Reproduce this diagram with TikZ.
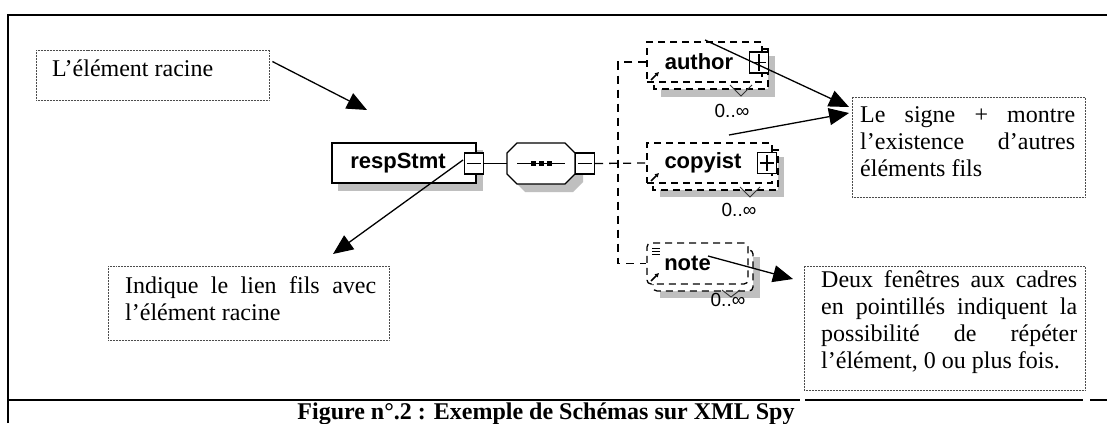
\documentclass[tikz,border=0pt]{standalone}
\usepackage{fontspec}
\setmainfont{Liberation Serif}
\newfontfamily\arialfont{Liberation Sans}
\usetikzlibrary{arrows.meta,calc}

\tikzset{
  frameline/.style={line width=1.7pt},
  callout/.style={draw=black!70, line width=0.9pt, dash pattern=on 1pt off 0.5pt, fill=white, inner sep=0pt},
  calltext/.style={font=\fontsize{24}{27}\selectfont, inner sep=0pt, align=justify, anchor=north west},
  pointer/.style={line width=1.3pt, -{Triangle[length=20pt,width=17pt]}},
  elemfont/.style={font=\arialfont\bfseries\fontsize{22}{24}\selectfont},
  shade/.style={fill=black!25, draw=none},
  solidbox/.style={draw, fill=white, line width=1.3pt, inner sep=0pt, elemfont},
  repbox/.style={draw, fill=white, line width=1.3pt, dash pattern=on 7pt off 5pt},
  link/.style={line width=1.3pt},
  optlink/.style={line width=1.3pt, dash pattern=on 8pt off 6pt},
  tog/.style={draw, fill=white, line width=1.2pt, minimum width=19pt, minimum height=21pt, inner sep=0pt},
  card/.style={font=\arialfont\fontsize{19}{20}\selectfont, inner sep=0pt},
  refmark/.style={line width=1.5pt, -{Latex[length=4pt,width=5pt]}},
  vmark/.style={line width=0.9pt, draw=black!80},
}

\begin{document}
\begin{tikzpicture}[x=1pt,y=-1pt]
\useasboundingbox (0,0) rectangle (1107,423);
\fill[white] (0,0) rectangle (1107,423);

% table frame and caption rule
\draw[frameline] (8,423) -- (8,15) -- (1107,15);
\draw[frameline] (8,400) -- (800,400);
\draw[frameline] (805,400) -- (1083,400);
\draw[frameline] (1090,400) -- (1107,400);

% caption
\node[font=\bfseries\fontsize{24}{27}\selectfont, anchor=base, inner sep=0pt] (caption)
  at (546,419) {Figure n°.2 : Exemple de Schémas sur XML Spy};

% ---------- root element ----------
\fill[shade] (338,150) rectangle (483,191);
\node[solidbox, minimum width=144pt, minimum height=40pt] (root) at (404,163) {respStmt\kern12pt};
\node[tog] (rootm) at (474,163.5) {};
\draw[line width=1.2pt] ([xshift=3pt]rootm.west) -- ([xshift=-3pt]rootm.east);

% ---------- sequence compositor ----------
\fill[shade] (525,152) -- (573,152) -- (583,162) -- (583,182) -- (573,192) -- (525,192) -- (515,182) -- (515,162) -- cycle;
\node[minimum width=68pt, minimum height=40pt, inner sep=0pt] (seq) at (541,163.5) {};
\draw[link, fill=white] (517,143) -- (565,143) -- (575,153) -- (575,174) -- (565,184) -- (517,184) -- (507,174) -- (507,153) -- cycle;
\draw[link] (517,163.5) -- (565,163.5);
\foreach \sx in {533,541,549} \fill (\sx-2.5,161) rectangle (\sx+2.5,166);
\node[tog] (seqm) at (585,163.5) {};
\draw[line width=1.2pt] ([xshift=3pt]seqm.west) -- ([xshift=-3pt]seqm.east);

\draw[link] (rootm.east) -- (seq.west);

% ---------- child: author ----------
\fill[shade] (661,56) rectangle (775,97);
\draw[repbox] (654,49) rectangle (768,89);
\node[repbox, elemfont, minimum width=115pt, minimum height=40pt, inner sep=0pt] (author) at (704.5,62) {author\kern11pt};
\node[tog] (authorp) at (759,62.5) {};
\draw[line width=1.2pt] ([xshift=3pt]authorp.west) -- ([xshift=-3pt]authorp.east)
  ([yshift=-3pt]authorp.north) -- ([yshift=3pt]authorp.south);
\draw[refmark] (651,80) -- (659,72);
\draw[vmark] (730,85) -- (741,96) -- (752,85);
\node[card] (authorc) at (732,111) {0..∞};

% ---------- child: copyist ----------
\fill[shade] (660,157) rectangle (784,197);
\draw[repbox] (653,150) rectangle (778,190);
\node[repbox, elemfont, minimum width=125pt, minimum height=40pt, inner sep=0pt] (copyist) at (709.5,163) {copyist\kern13pt};
\node[tog] (copyistp) at (767,163) {};
\draw[line width=1.2pt] ([xshift=3pt]copyistp.west) -- ([xshift=-3pt]copyistp.east)
  ([yshift=-3pt]copyistp.north) -- ([yshift=3pt]copyistp.south);
\draw[refmark] (651,181) -- (659,173);
\draw[vmark] (740,187) -- (750,197) -- (760,187);
\node[card] (copyistc) at (739,210) {0..∞};

% ---------- child: note ----------
\fill[shade] (660,257) rectangle (760,298);
\draw[repbox, rounded corners=4pt] (653,250) rectangle (753,291);
\node[repbox, rounded corners=4pt, elemfont, minimum width=101pt, minimum height=41pt, inner sep=0pt] (note) at (697.5,263.5) {note\kern20pt};
\draw[line width=1pt] (652,248) -- (660,248) (652,251) -- (660,251) (652,254) -- (660,254);
\draw[refmark] (651,281) -- (659,273);
\draw[vmark] (722,290) -- (731,297) -- (740,290);
\node[card] (notec) at (728,300) {0..∞};

% ---------- optional branches ----------
\coordinate (fork) at (618,163.5);
\draw[optlink] (author.west) -| (fork) |- (note.west);
\draw[optlink] (seqm.east) -- (copyist.west);

% ---------- annotations ----------
\node[callout, minimum width=233pt, minimum height=50pt] (cRoot) at (152.5,75) {};
\node[calltext, anchor=base west] (tRoot) at (52,76) {L’élément racine};

\node[callout, minimum width=233pt, minimum height=100pt] (cPlus) at (968.5,147) {};
\node[calltext, text width=215pt] (tPlus) at (860,106)
  {Le signe + montre\linebreak l’existence d’autres\linebreak éléments fils};

\node[callout, minimum width=281pt, minimum height=124pt] (cRep) at (944.5,328) {};
\node[calltext, text width=256pt] (tRep) at (821,270)
  {Deux fenêtres aux cadres\linebreak en pointillés indiquent la\linebreak possibilité de répéter\linebreak l’élément, 0 ou plus fois.};

\node[callout, minimum width=281pt, minimum height=74pt] (cLink) at (248.5,303) {};
\node[calltext, text width=251pt] (tLink) at (125,276)
  {Indique le lien fils avec\linebreak l’élément racine};

% pointer arrows
\coordinate (pRootTip) at (367,110);
\coordinate (pLinkStart) at (463,160);
\coordinate (pLinkTip) at (333,254);
\coordinate (pPlusA) at (705,40);
\coordinate (pPlusB) at (729,135);
\coordinate (pPlusTipA) at (849,107);
\coordinate (pPlusTipB) at (849,113);
\coordinate (pRepStart) at (708,256);
\coordinate (pRepTip) at (793,279);

\draw[pointer] (cRoot.north east) ++(3,12) coordinate (pRootStart) -- (pRootTip);
\draw[pointer] (pLinkStart) -- (pLinkTip);
\draw[pointer] (pPlusA) -- (pPlusTipA);
\draw[pointer] (pPlusB) -- (pPlusTipB);
\draw[pointer] (pRepStart) -- (pRepTip);
\end{tikzpicture}
\end{document}
